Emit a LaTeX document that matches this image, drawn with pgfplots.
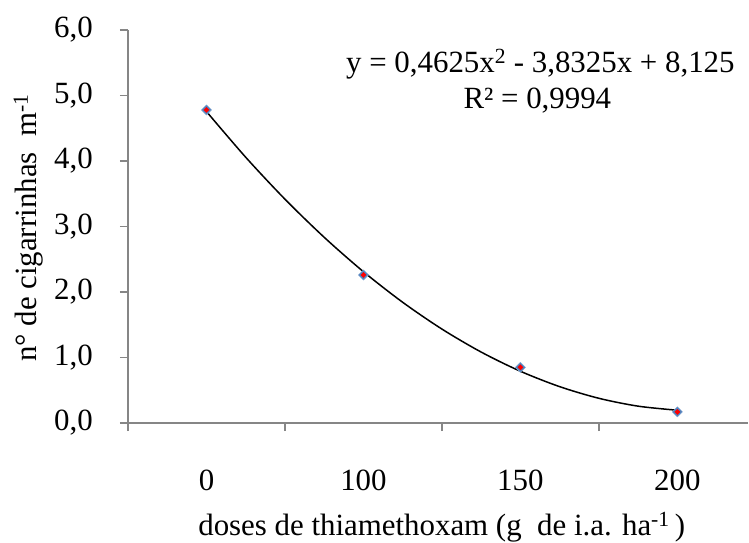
\documentclass[border=0pt]{standalone}
\usepackage{fontspec}
\setmainfont{Liberation Serif}
\usepackage{pgfplots}
\pgfplotsset{compat=1.18}
\definecolor{axgray}{RGB}{134,134,134}
\definecolor{mblue}{RGB}{79,129,189}
\begin{document}
\begin{tikzpicture}[font=\fontsize{31}{35}\selectfont]
\useasboundingbox (-128bp,-120bp) rectangle (621bp,423bp);
\begin{axis}[
  at={(0,0)}, anchor=south west, scale only axis,
  width=620bp, height=393bp,
  xmin=0.5, xmax=4.45, ymin=0, ymax=6,
  axis x line*=bottom, axis y line*=left,
  axis line style={axgray, line width=1.5bp},
  tick style={axgray, line width=1.5bp},
  tick align=outside,
  major tick length=8bp, minor tick length=8bp,
  xtick={1,2,3,4}, xticklabels={0,100,150,200},
  major x tick style={draw=none},
  minor xtick={0.5,1.5,2.5,3.5},
  ytick={0,1,2,3,4,5,6},
  /pgf/number format/assume math mode=true,
  tick label style={font=\fontsize{31}{35}\selectfont, black},
  xticklabel style={inner sep=0pt, anchor=north, yshift=-39bp},
  yticklabel style={inner sep=0pt, anchor=east, xshift=-27bp,
    /pgf/number format/use comma, /pgf/number format/fixed,
    /pgf/number format/fixed zerofill, /pgf/number format/precision=1},
  label style={font=\fontsize{31}{35}\selectfont},
  every axis y label/.style={at={(axis description cs:-0.1468,0.496)}, rotate=90, anchor=base, inner sep=0pt},
  every axis x label/.style={at={(axis description cs:0.506,-0.285)}, anchor=base, inner sep=0pt},
  ylabel={n° de cigarrinhas\ \ m\textsuperscript{-1}},
  xlabel={doses de thiamethoxam (g\ \ de i.a. ha\textsuperscript{-1}\,)},
  clip=false,
]
\addplot[black, line width=1.5bp, smooth, no marks] coordinates {
 (1,4.755) (1.25,4.057) (1.5,3.417) (1.75,2.835) (2,2.310) (2.25,1.843)
 (2.5,1.434) (2.75,1.083) (3,0.790) (3.25,0.555) (3.5,0.377) (3.75,0.257) (4,0.195)
};
\addplot[only marks, mark=square*, mark size=3.6bp, mark options={rotate=45, fill=mblue, draw=mblue!70}] coordinates {
 (1,4.78) (2,2.26) (3,0.85) (4,0.17)
};
\addplot[only marks, mark=square*, mark size=1.8bp, mark options={rotate=45, fill=red, draw=red}] coordinates {
 (1,4.78) (2,2.26) (3,0.85) (4,0.17)
};
\node[anchor=base east, inner sep=0pt] at (axis cs:4.366,5.344) {y = 0,4625x\textsuperscript{2} -\ 3,8325x + 8,125};
\node[anchor=base, inner sep=0pt] at (axis cs:3.108,4.809) {R² = 0,9994};
\end{axis}
\end{tikzpicture}
\end{document}
